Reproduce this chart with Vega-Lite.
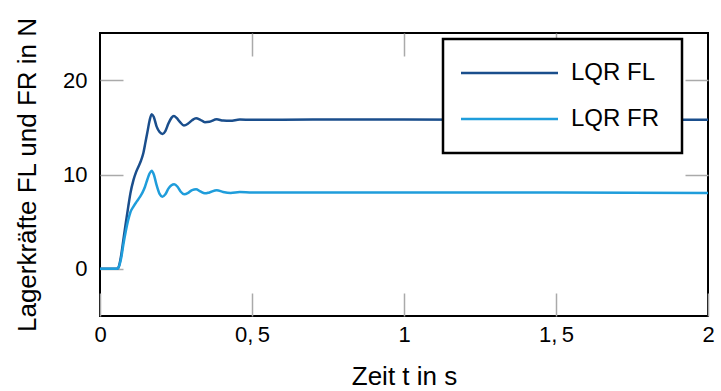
{
  "$schema": "https://vega.github.io/schema/vega-lite/v6.json",
  "width": 608,
  "height": 283,
  "autosize": {"type": "none"},
  "padding": {"left": 100, "top": 33, "right": 13, "bottom": 75},
  "background": "white",
  "config": {
    "font": "Liberation Sans",
    "view": {"stroke": "black", "strokeWidth": 2},
    "axis": {
      "domain": false,
      "grid": false,
      "ticks": true,
      "tickSize": -23,
      "tickColor": "#aaaaaa",
      "tickWidth": 1.5,
      "labelFontSize": 22,
      "labelColor": "black",
      "labelPadding": 31,
      "labelOverlap": false,
      "labelFlush": false,
      "titleFontSize": 26,
      "titleFontWeight": "normal",
      "titleColor": "black"
    }
  },
  "data": {
    "values": [
      {"t": 0, "F": 0, "s": "LQR FL"},
      {"t": 0.055, "F": 0, "s": "LQR FL"},
      {"t": 0.06, "F": 0.1, "s": "LQR FL"},
      {"t": 0.07, "F": 1.5, "s": "LQR FL"},
      {"t": 0.077, "F": 3.1, "s": "LQR FL"},
      {"t": 0.085, "F": 4.9, "s": "LQR FL"},
      {"t": 0.093, "F": 6.6, "s": "LQR FL"},
      {"t": 0.1, "F": 8.0, "s": "LQR FL"},
      {"t": 0.11, "F": 9.4, "s": "LQR FL"},
      {"t": 0.118, "F": 10.2, "s": "LQR FL"},
      {"t": 0.126, "F": 10.8, "s": "LQR FL"},
      {"t": 0.134, "F": 11.4, "s": "LQR FL"},
      {"t": 0.142, "F": 12.2, "s": "LQR FL"},
      {"t": 0.15, "F": 13.5, "s": "LQR FL"},
      {"t": 0.156, "F": 14.5, "s": "LQR FL"},
      {"t": 0.163, "F": 15.7, "s": "LQR FL"},
      {"t": 0.17, "F": 16.4, "s": "LQR FL"},
      {"t": 0.177, "F": 16.1, "s": "LQR FL"},
      {"t": 0.186, "F": 15.1, "s": "LQR FL"},
      {"t": 0.196, "F": 14.5, "s": "LQR FL"},
      {"t": 0.206, "F": 14.3, "s": "LQR FL"},
      {"t": 0.215, "F": 14.6, "s": "LQR FL"},
      {"t": 0.225, "F": 15.4, "s": "LQR FL"},
      {"t": 0.235, "F": 16.0, "s": "LQR FL"},
      {"t": 0.243, "F": 16.2, "s": "LQR FL"},
      {"t": 0.252, "F": 16.0, "s": "LQR FL"},
      {"t": 0.262, "F": 15.6, "s": "LQR FL"},
      {"t": 0.276, "F": 15.2, "s": "LQR FL"},
      {"t": 0.29, "F": 15.4, "s": "LQR FL"},
      {"t": 0.303, "F": 15.75, "s": "LQR FL"},
      {"t": 0.316, "F": 15.95, "s": "LQR FL"},
      {"t": 0.33, "F": 15.8, "s": "LQR FL"},
      {"t": 0.345, "F": 15.55, "s": "LQR FL"},
      {"t": 0.36, "F": 15.6, "s": "LQR FL"},
      {"t": 0.384, "F": 15.85, "s": "LQR FL"},
      {"t": 0.405, "F": 15.72, "s": "LQR FL"},
      {"t": 0.428, "F": 15.7, "s": "LQR FL"},
      {"t": 0.46, "F": 15.82, "s": "LQR FL"},
      {"t": 0.5, "F": 15.8, "s": "LQR FL"},
      {"t": 0.7, "F": 15.82, "s": "LQR FL"},
      {"t": 1.0, "F": 15.82, "s": "LQR FL"},
      {"t": 1.5, "F": 15.8, "s": "LQR FL"},
      {"t": 2.0, "F": 15.8, "s": "LQR FL"},
      {"t": 0, "F": 0, "s": "LQR FR"},
      {"t": 0.055, "F": 0, "s": "LQR FR"},
      {"t": 0.06, "F": 0.1, "s": "LQR FR"},
      {"t": 0.07, "F": 1.2, "s": "LQR FR"},
      {"t": 0.077, "F": 2.6, "s": "LQR FR"},
      {"t": 0.085, "F": 4.0, "s": "LQR FR"},
      {"t": 0.093, "F": 5.2, "s": "LQR FR"},
      {"t": 0.1, "F": 6.0, "s": "LQR FR"},
      {"t": 0.11, "F": 6.6, "s": "LQR FR"},
      {"t": 0.12, "F": 7.1, "s": "LQR FR"},
      {"t": 0.132, "F": 7.65, "s": "LQR FR"},
      {"t": 0.14, "F": 8.1, "s": "LQR FR"},
      {"t": 0.148, "F": 8.7, "s": "LQR FR"},
      {"t": 0.156, "F": 9.5, "s": "LQR FR"},
      {"t": 0.163, "F": 10.1, "s": "LQR FR"},
      {"t": 0.17, "F": 10.4, "s": "LQR FR"},
      {"t": 0.177, "F": 10.0, "s": "LQR FR"},
      {"t": 0.186, "F": 8.9, "s": "LQR FR"},
      {"t": 0.196, "F": 7.95, "s": "LQR FR"},
      {"t": 0.205, "F": 7.65, "s": "LQR FR"},
      {"t": 0.215, "F": 7.9, "s": "LQR FR"},
      {"t": 0.225, "F": 8.5, "s": "LQR FR"},
      {"t": 0.235, "F": 8.85, "s": "LQR FR"},
      {"t": 0.244, "F": 8.96, "s": "LQR FR"},
      {"t": 0.255, "F": 8.7, "s": "LQR FR"},
      {"t": 0.265, "F": 8.2, "s": "LQR FR"},
      {"t": 0.277, "F": 7.9, "s": "LQR FR"},
      {"t": 0.29, "F": 8.05, "s": "LQR FR"},
      {"t": 0.303, "F": 8.35, "s": "LQR FR"},
      {"t": 0.316, "F": 8.43, "s": "LQR FR"},
      {"t": 0.33, "F": 8.2, "s": "LQR FR"},
      {"t": 0.345, "F": 8.0, "s": "LQR FR"},
      {"t": 0.36, "F": 8.1, "s": "LQR FR"},
      {"t": 0.384, "F": 8.33, "s": "LQR FR"},
      {"t": 0.405, "F": 8.15, "s": "LQR FR"},
      {"t": 0.43, "F": 8.05, "s": "LQR FR"},
      {"t": 0.46, "F": 8.15, "s": "LQR FR"},
      {"t": 0.5, "F": 8.1, "s": "LQR FR"},
      {"t": 1.0, "F": 8.1, "s": "LQR FR"},
      {"t": 1.5, "F": 8.08, "s": "LQR FR"},
      {"t": 2.0, "F": 8.05, "s": "LQR FR"}
    ]
  },
  "layer": [
    {
      "mark": {"type": "line", "strokeWidth": 2.5, "interpolate": "monotone", "clip": true},
      "encoding": {
        "x": {
          "field": "t", "type": "quantitative",
          "scale": {"domain": [0, 2], "nice": false, "zero": false},
          "axis": {
            "values": [0, 0.5, 1, 1.5, 2],
            "format": "~g",
            "labelExpr": "replace(datum.label, '.', ',\u2009')",
            "title": "Zeit t in s",
            "titlePadding": 18
          }
        },
        "y": {
          "field": "F", "type": "quantitative",
          "scale": {"domain": [-5, 25], "nice": false, "zero": false},
          "axis": {
            "values": [0, 10, 20],
            "labelPadding": 36,
            "title": "Lagerkräfte FL und FR in N",
            "titlePadding": 22
          }
        },
        "color": {
          "field": "s", "type": "nominal",
          "scale": {"domain": ["LQR FL", "LQR FR"], "range": ["#1a4e8c", "#1f9ddb"]},
          "legend": {
            "title": null,
            "orient": "none",
            "legendX": 343,
            "legendY": 6,
            "fillColor": "white",
            "strokeColor": "black",
            "padding": 22,
            "symbolType": "M-1.6,0L8.1,0",
            "symbolSize": 400,
            "symbolStrokeWidth": 2.5,
            "labelFontSize": 24,
            "labelColor": "black",
            "labelOffset": 82,
            "labelExpr": "datum.label + '\u2003\u2003'",
            "rowPadding": 22,
            "encode": {"legend": {"update": {"strokeWidth": {"value": 2.5}}}}
          }
        }
      }
    },
    {
      "mark": {"type": "point", "opacity": 0},
      "encoding": {
        "x": {
          "field": "t", "type": "quantitative",
          "axis": {"orient": "top", "values": [0.5, 1, 1.5], "labels": false, "title": null}
        },
        "y": {
          "field": "F", "type": "quantitative",
          "axis": {"orient": "right", "values": [10, 20], "labels": false, "title": null}
        }
      }
    }
  ],
  "resolve": {"axis": {"x": "independent", "y": "independent"}}
}
